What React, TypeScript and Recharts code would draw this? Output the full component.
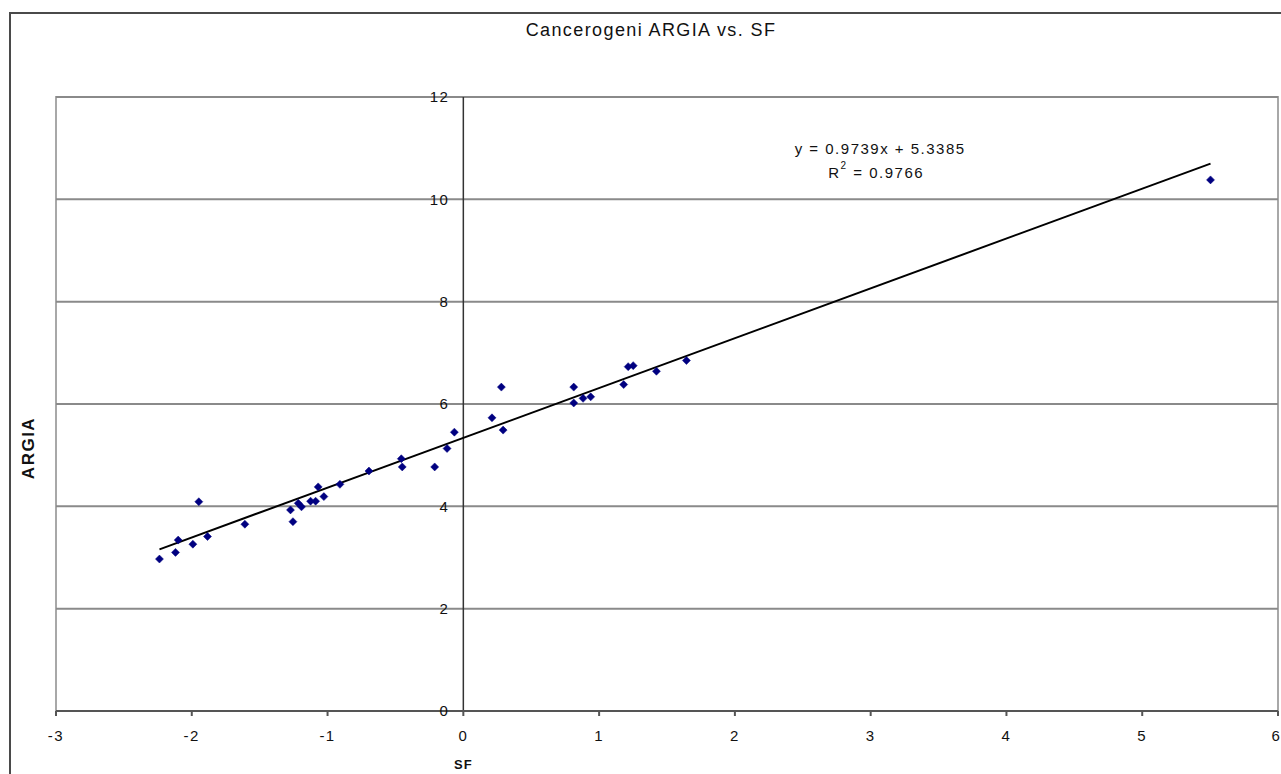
import React from 'react';
import {
  ScatterChart,
  Scatter,
  XAxis,
  YAxis,
  ReferenceLine,
  ReferenceDot,
  ReferenceArea,
} from 'recharts';

const TITLE = 'Cancerogeni ARGIA vs. SF';
const X_LABEL = 'SF';
const Y_LABEL = 'ARGIA';

const SF_VALUES = [
  -2.238, -2.12, -2.1, -1.992, -1.948, -1.884, -1.609, -1.273, -1.255, -1.216,
  -1.192, -1.125, -1.088, -1.069, -1.027, -0.909, -0.695, -0.457, -0.45, -0.211,
  -0.12, -0.066, 0.211, 0.28, 0.293, 0.813, 0.813, 0.882, 0.938, 1.181,
  1.214, 1.251, 1.422, 1.643, 5.503,
];
const ARGIA_VALUES = [
  2.97, 3.1, 3.34, 3.26, 4.09, 3.41, 3.65, 3.93, 3.7, 4.06,
  3.99, 4.1, 4.1, 4.38, 4.19, 4.43, 4.69, 4.93, 4.77, 4.77,
  5.13, 5.45, 5.73, 6.33, 5.49, 6.33, 6.02, 6.11, 6.14, 6.38,
  6.73, 6.75, 6.64, 6.85, 10.38,
];

const X_TICKS = [-3, -2, -1, 0, 1, 2, 3, 4, 5, 6];
const Y_TICKS = [0, 2, 4, 6, 8, 10, 12];

const SLOPE = 0.9739;
const INTERCEPT = 5.3385;
const EQUATION_TEXT = 'y = 0.9739x + 5.3385';
const R2_TEXT = ' = 0.9766';
const EQUATION_POS = { x: 3.07, y: 11.0 };

const data = SF_VALUES.map((x, i) => ({ x, y: ARGIA_VALUES[i] }));
const xMin = Math.min(...SF_VALUES);
const xMax = Math.max(...SF_VALUES);
const trendSegment = [
  { x: xMin, y: SLOPE * xMin + INTERCEPT },
  { x: xMax, y: SLOPE * xMax + INTERCEPT },
];

const FONT = '"Liberation Sans", Arial, sans-serif';
const TEXT_COLOR = '#111';

const Diamond = (props: any) => {
  const { cx, cy } = props;
  if (cx == null || cy == null) return null;
  const s = 4;
  return (
    <polygon
      points={`${cx},${cy - s} ${cx + s},${cy} ${cx},${cy + s} ${cx - s},${cy}`}
      fill="#000080"
      stroke="#000080"
      strokeWidth={0.5}
    />
  );
};

const EquationLabel = (props: any) => {
  const vb = props.viewBox || {};
  const cx = (vb.x || 0) + (vb.width || 0) / 2;
  const cy = (vb.y || 0) + (vb.height || 0) / 2;
  return (
    <g fontFamily={FONT} fontSize={15} fill={TEXT_COLOR} letterSpacing={1.5}>
      <text x={cx} y={cy} textAnchor="middle" dominantBaseline="central">
        {EQUATION_TEXT}
      </text>
      <text x={cx - 4} y={cy + 24} textAnchor="middle" dominantBaseline="central">
        R
        <tspan fontSize={10} dy={-7}>2</tspan>
        <tspan dy={7}>{R2_TEXT}</tspan>
      </text>
    </g>
  );
};

const YAxisTitle = (props: any) => {
  const vb = props.viewBox || {};
  const x = (vb.x || 0) + 19;
  const y = (vb.y || 0) + (vb.height || 0) / 2 + 44;
  return (
    <text
      x={x}
      y={y}
      transform={`rotate(-90, ${x}, ${y})`}
      textAnchor="middle"
      dominantBaseline="central"
      fontFamily={FONT}
      fontSize={17}
      fontWeight="bold"
      letterSpacing={1.5}
      fill={TEXT_COLOR}
    >
      {Y_LABEL}
    </text>
  );
};

export default function App() {
  return (
    <div
      style={{
        position: 'absolute',
        left: 0,
        top: 0,
        width: 1281,
        height: 774,
        overflow: 'hidden',
        background: '#fff',
      }}
    >
      <div
        style={{
          position: 'absolute',
          left: 9,
          top: 12,
          width: 1400,
          height: 900,
          borderLeft: '2px solid #4a4a4a',
          borderTop: '2px solid #4a4a4a',
        }}
      />
      <div
        style={{
          position: 'absolute',
          left: 0,
          top: 19,
          width: 1302,
          textAlign: 'center',
          fontFamily: FONT,
          fontSize: 18,
          letterSpacing: 1.4,
          color: TEXT_COLOR,
          lineHeight: '22px',
        }}
      >
        {TITLE}
      </div>
      <div style={{ position: 'absolute', left: 0, top: 0 }}>
        <ScatterChart
          width={1281}
          height={774}
          margin={{ top: 97, right: 3, bottom: 33, left: 9 }}
        >
          <XAxis
            type="number"
            dataKey="x"
            domain={[-3, 6]}
            ticks={X_TICKS}
            allowDataOverflow
            height={30}
            axisLine={{ stroke: '#555', strokeWidth: 2 }}
            tickLine={{ stroke: '#555', strokeWidth: 2 }}
            tickSize={5}
            tickMargin={14}
            tick={{ fill: TEXT_COLOR, fontSize: 15, fontFamily: FONT, letterSpacing: 1.5 }}
          />
          <YAxis
            type="number"
            dataKey="y"
            domain={[0, 12]}
            ticks={Y_TICKS}
            allowDataOverflow
            width={47}
            axisLine={false}
            tickLine={false}
            tick={false}
            label={<YAxisTitle />}
          />
          {Y_TICKS.map((t) => (
            <ReferenceLine
              key={`grid-${t}`}
              y={t}
              stroke="#8a8a8a"
              strokeWidth={2}
            />
          ))}
          <ReferenceArea
            x1={-3}
            x2={6}
            y1={0}
            y2={12}
            fill="none"
            fillOpacity={0}
            stroke="#a8a8a8"
            strokeWidth={2}
            ifOverflow="visible"
          />
          <ReferenceLine x={0} stroke="#333" strokeWidth={1.5} />
          {Y_TICKS.map((t) => (
            <ReferenceDot
              key={`yt-${t}`}
              x={0}
              y={t}
              r={0}
              fill="none"
              stroke="none"
              ifOverflow="visible"
              label={{
                value: String(t),
                position: 'left',
                offset: 14,
                fill: TEXT_COLOR,
                fontSize: 15,
                fontFamily: FONT,
                letterSpacing: 1.5,
              }}
            />
          ))}
          <ReferenceDot
            x={0}
            y={0}
            r={0}
            fill="none"
            stroke="none"
            ifOverflow="visible"
            label={{
              value: X_LABEL,
              position: 'bottom',
              offset: 49,
              fill: TEXT_COLOR,
              fontSize: 13,
              fontWeight: 'bold',
              fontFamily: FONT,
              letterSpacing: 1,
            }}
          />
          <ReferenceLine
            segment={trendSegment}
            stroke="#000"
            strokeWidth={2}
            ifOverflow="visible"
          />
          <ReferenceDot
            x={EQUATION_POS.x}
            y={EQUATION_POS.y}
            r={0}
            fill="none"
            stroke="none"
            ifOverflow="visible"
            label={<EquationLabel />}
          />
          <Scatter
            data={data}
            shape={<Diamond />}
            isAnimationActive={false}
          />
        </ScatterChart>
      </div>
    </div>
  );
}
